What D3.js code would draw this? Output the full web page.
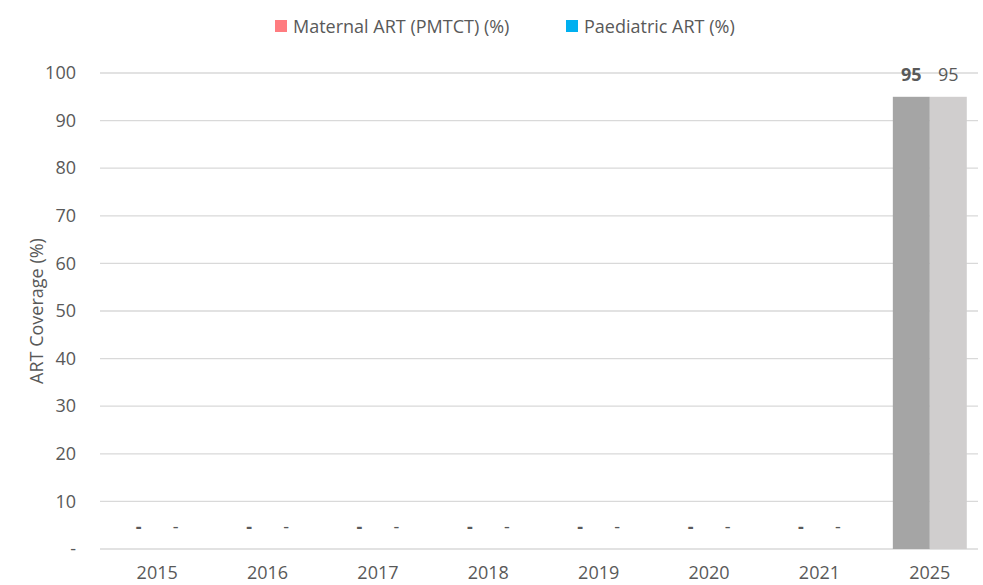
<!DOCTYPE html>
<html>
<head>
<meta charset="utf-8">
<script src="https://cdn.jsdelivr.net/npm/d3@7"></script>
<style>
  body { margin: 0; background: #fff; }
  text { font-family: "Open Sans", sans-serif; fill: #595959; }
</style>
</head>
<body>
<div id="chart"></div>
<script>
// Data
var years = ["2015", "2016", "2017", "2018", "2019", "2020", "2021", "2025"];
var maternal = [0, 0, 0, 0, 0, 0, 0, 95];
var paediatric = [0, 0, 0, 0, 0, 0, 0, 95];
var seriesNames = ["Maternal ART (PMTCT) (%)", "Paediatric ART (%)"];
var yTicks = [0, 10, 20, 30, 40, 50, 60, 70, 80, 90, 100];

var w = 983, h = 585;
var margin = {left: 100, right: 5, top: 73, bottom: 36};
var fs = "18px";

var barColors = ["#a5a5a5", "#d0cece"];
var legendColors = ["#ff7c80", "#00b0f0"];

var svg = d3.select("#chart")
	.append("svg")
		.attr("width", w)
		.attr("height", h);

var x = d3.scaleBand()
	.domain(years)
	.range([margin.left + 2, w + 2])
	.paddingInner(0.33)
	.paddingOuter(0.165);

var sub = d3.scaleBand()
	.domain([0, 1])
	.range([0, x.bandwidth()]);

var y = d3.scaleLinear()
	.domain([0, 100])
	.range([h - margin.bottom, margin.top]);

var fmt = function(v){ return v === 0 ? "-" : d3.format("d")(v); };

// Gridlines
svg.append("g")
	.selectAll("line")
	.data(yTicks)
	.enter()
	.append("line")
	.attr("x1", margin.left)
	.attr("x2", w - margin.right)
	.attr("y1", function(d){ return y(d); })
	.attr("y2", function(d){ return y(d); })
	.attr("stroke", "#d9d9d9")
	.attr("stroke-width", 1.3);

// Y axis
var yAxis = d3.axisLeft(y)
	.tickValues(yTicks)
	.tickFormat(fmt)
	.tickSize(0)
	.tickPadding(24);

var gY = svg.append("g")
	.attr("transform", "translate(" + margin.left + ",0)")
	.call(yAxis);
gY.select(".domain").remove();
gY.selectAll("text").style("font-size", fs).attr("fill", "#595959");

// X axis
var xAxis = d3.axisBottom(x).tickSize(0).tickPadding(17);
var gX = svg.append("g")
	.attr("transform", "translate(0," + (h - margin.bottom) + ")")
	.call(xAxis);
gX.select(".domain").remove();
gX.selectAll("text").style("font-size", fs).attr("fill", "#595959");

// Y title
svg.append("text")
	.attr("transform", "translate(43," + 311 + ") rotate(-90)")
	.attr("text-anchor", "middle")
	.style("font-size", fs)
	.text("ART Coverage (%)");

// Bars
var series = [maternal, paediatric];
series.forEach(function(vals, s){
	var g = svg.append("g");
	g.selectAll("rect")
		.data(vals)
		.enter()
		.append("rect")
		.attr("x", function(d, i){ return x(years[i]) + sub(s); })
		.attr("width", sub.bandwidth())
		.attr("y", function(d){ return y(d); })
		.attr("height", function(d){ return y(0) - y(d); })
		.attr("fill", barColors[s]);

	g.selectAll("text")
		.data(vals)
		.enter()
		.append("text")
		.attr("x", function(d, i){ return x(years[i]) + sub(s) + sub.bandwidth() / 2; })
		.attr("y", function(d){ return y(d) - 16; })
		.attr("text-anchor", "middle")
		.style("font-size", fs)
		.style("font-weight", s === 0 ? "bold" : "normal")
		.attr("fill", s === 0 ? "#404040" : "#595959")
		.text(function(d){ return fmt(d); });
});

// Legend
var legendX = [275, 566];
var leg = svg.append("g");
seriesNames.forEach(function(name, i){
	leg.append("rect")
		.attr("x", legendX[i])
		.attr("y", 20)
		.attr("width", 12)
		.attr("height", 12)
		.attr("fill", legendColors[i]);
	leg.append("text")
		.attr("x", legendX[i] + 18)
		.attr("y", 33)
		.style("font-size", fs)
		.text(name);
});
</script>
</body>
</html>
